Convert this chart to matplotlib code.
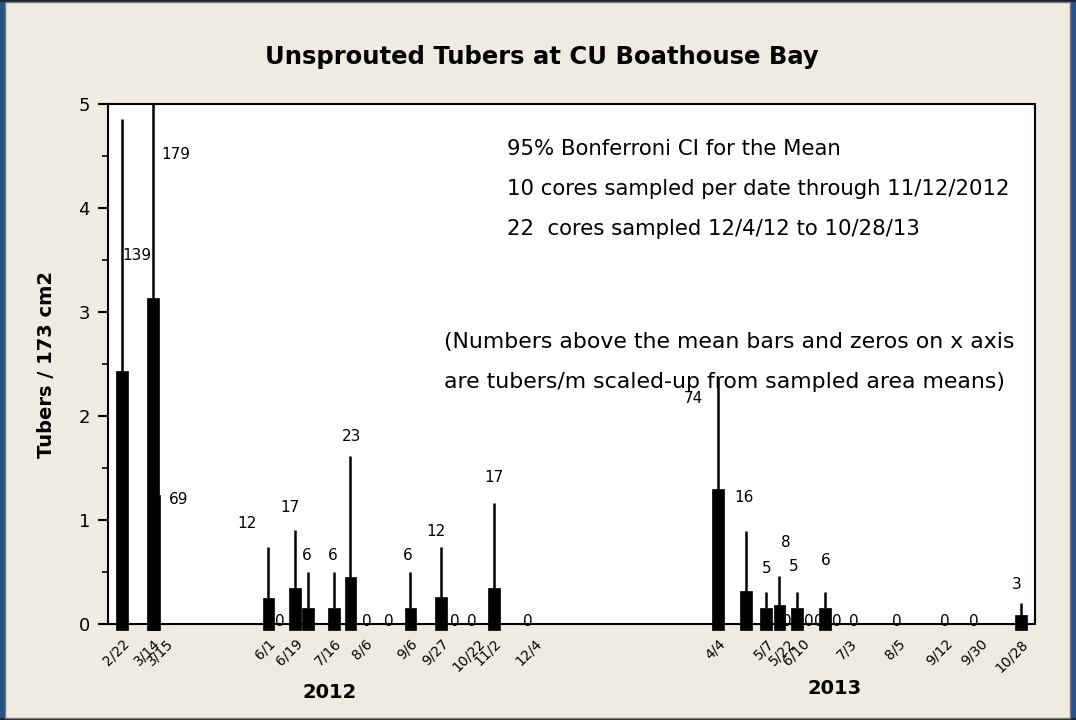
import matplotlib
matplotlib.use('Agg')
import matplotlib.pyplot as plt
import matplotlib.dates as mdates
from matplotlib.patches import Rectangle
from matplotlib.transforms import ScaledTranslation
import datetime as dt

# ---------------- data ----------------
bar_dates = ['2012-02-22', '2012-03-14', '2012-03-15', '2012-06-01', '2012-06-19',
             '2012-06-28', '2012-07-16', '2012-07-27', '2012-09-06', '2012-09-27',
             '2012-11-02', '2013-04-04', '2013-04-23', '2013-05-07', '2013-05-16',
             '2013-05-28', '2013-06-16', '2013-10-28']
means = [2.43, 3.13, 1.24, 0.25, 0.345, 0.15, 0.15, 0.45, 0.15, 0.255,
         0.345, 1.30, 0.32, 0.15, 0.18, 0.15, 0.15, 0.09]
ci_upper = [4.86, 5.6, 3.0, 0.74, 0.90, 0.50, 0.50, 1.62, 0.50, 0.74,
            1.16, 2.37, 0.89, 0.31, 0.46, 0.31, 0.31, 0.20]
per_m2 = ['139', '179', '69', '12', '17', '6', '6', '23', '6', '12',
          '17', '74', '16', '5', '8', '5', '6', '3']

zero_dates = ['2012-06-09', '2012-08-07', '2012-08-22', '2012-10-06', '2012-10-18',
              '2012-11-25', '2013-05-21', '2013-06-05', '2013-06-12', '2013-06-24',
              '2013-07-06', '2013-08-04', '2013-09-06', '2013-09-26']

tick_dates = ['2012-02-22', '2012-03-14', '2012-03-15', '2012-06-01', '2012-06-19',
              '2012-07-16', '2012-08-06', '2012-09-06', '2012-09-27', '2012-10-22',
              '2012-11-02', '2012-12-04', '2013-04-04', '2013-05-07', '2013-05-22',
              '2013-06-10', '2013-07-03', '2013-08-05', '2013-09-12', '2013-09-30',
              '2013-10-28']
tick_labels = ['2/22', '3/14', '3/15', '6/1', '6/19', '7/16', '8/6', '9/6', '9/27',
               '10/22', '11/2', '12/4', '4/4', '5/7', '5/22', '6/10', '7/3', '8/5',
               '9/12', '9/30', '10/28']

years = ['2012', '2013']

title = 'Unsprouted Tubers at CU Boathouse Bay'
ylabel = 'Tubers / 173 cm2'
notes = ['95% Bonferroni CI for the Mean',
         '10 cores sampled per date through 11/12/2012',
         '22  cores sampled 12/4/12 to 10/28/13']
note2 = ['(Numbers above the mean bars and zeros on x axis',
         'are tubers/m scaled-up from sampled area means)']

# ---------------- layout (pixel offsets of value labels from bar top) ----------------
label_offsets = [(15, 116), (23, 144), (24, -4), (-22, 75), (-5, 81), (-1, 53), (-2, 53),
                 (1, 141), (-3, 53), (-5, 66), (0, 111), (-25, 90), (-2, 93), (0, 40),
                 (6, 63), (-3, 42), (1, 48), (-4, 30)]
tick_shift = {'3/15': 12, '6/10': -14, '12/4': -6, '9/12': -8}

def to_d(s):
    return dt.datetime.strptime(s, '%Y-%m-%d')

W, H = 1076, 720
fig = plt.figure(figsize=(W / 100, H / 100), dpi=100)
BG = '#efebe1'
fig.patch.set_facecolor(BG)

# window-like frame
fig.patches.append(Rectangle((0, 0), 5 / W, 1, transform=fig.transFigure,
                             facecolor='#2a5288', edgecolor='none', zorder=0))
fig.patches.append(Rectangle((1 - 6 / W, 0), 6 / W, 1, transform=fig.transFigure,
                             facecolor='#2a5288', edgecolor='none', zorder=0))
fig.patches.append(Rectangle((0, 0), 1, 2 / H, transform=fig.transFigure,
                             facecolor='#1b2433', edgecolor='none', zorder=0))
fig.patches.append(Rectangle((0, 1 - 2 / H), 1, 2 / H, transform=fig.transFigure,
                             facecolor='#1b2433', edgecolor='none', zorder=0))
fig.patches.append(Rectangle((5 / W, 2 / H), 1 - 11 / W, 1 - 4 / H,
                             transform=fig.transFigure, facecolor='none',
                             edgecolor='#7a7a7a', linewidth=1.0, zorder=0))

ax = fig.add_axes([108 / W, 1 - 624 / H, (1035 - 108) / W, (624 - 104) / H])
ax.set_facecolor('white')

xd = [to_d(s) for s in bar_dates]
bar_w = 8.0  # days
ax.bar(xd, [m + 0.06 for m in means], bottom=-0.06, width=bar_w, color='black',
       edgecolor='black', linewidth=0.5, zorder=3, clip_on=False)
ax.vlines(xd, means, ci_upper, color='black', linewidth=1.8, zorder=2)

for x, m, t, (dx, dy) in zip(xd, means, per_m2, label_offsets):
    ax.annotate(t, xy=(x, m), xytext=(dx, dy), textcoords='offset pixels',
                ha='center', va='center', fontsize=11, zorder=5)

for s in zero_dates:
    ax.annotate('0', xy=(to_d(s), 0), xytext=(0, 2), textcoords='offset pixels',
                ha='center', va='center', fontsize=11, zorder=5, annotation_clip=False)

ax.set_xlim(to_d('2012-02-12') + dt.timedelta(hours=10), to_d('2013-11-06') + dt.timedelta(hours=12))
ax.set_ylim(0, 5)

ax.set_xticks([mdates.date2num(to_d(s)) for s in tick_dates])
ax.set_xticklabels(tick_labels, rotation=45, ha='right', rotation_mode='anchor', fontsize=10)
ax.tick_params(axis='x', length=0, pad=9)
for lab in ax.get_xticklabels():
    sh = tick_shift.get(lab.get_text(), 0)
    if sh:
        lab.set_transform(lab.get_transform() + ScaledTranslation(sh / 100, 0, fig.dpi_scale_trans))

ax.set_yticks([0, 1, 2, 3, 4, 5])
ax.set_yticks([0.5, 1.5, 2.5, 3.5, 4.5], minor=True)
ax.tick_params(axis='y', which='major', length=7, width=1.5, labelsize=13, pad=6)
ax.tick_params(axis='y', which='minor', length=4, width=1.2)
ax.tick_params(axis='y', right=False)

for sp in ax.spines.values():
    sp.set_linewidth(1.5)
    sp.set_color('black')

ax.set_ylabel(ylabel, fontsize=14, fontweight='bold')
ax.yaxis.set_label_coords(-52 / 927, 0.5)

fig.text(542 / W, 1 - 57 / H, title, ha='center', va='center', fontsize=17.5, fontweight='bold')

for i, t in enumerate(notes):
    ax.text((507 - 108) / 927, (624 - 149 - 40 * i) / 520, t, transform=ax.transAxes,
            ha='left', va='center', fontsize=15.3)
for i, t in enumerate(note2):
    ax.text((444 - 108) / 927, (624 - 342 - 40 * i) / 520, t, transform=ax.transAxes,
            ha='left', va='center', fontsize=15.8)

fig.text(330 / W, 1 - 692 / H, years[0], ha='center', va='center', fontsize=14, fontweight='bold')
fig.text(835 / W, 1 - 689 / H, years[1], ha='center', va='center', fontsize=14, fontweight='bold')

fig.savefig('out.png', dpi=100, facecolor=fig.get_facecolor())
